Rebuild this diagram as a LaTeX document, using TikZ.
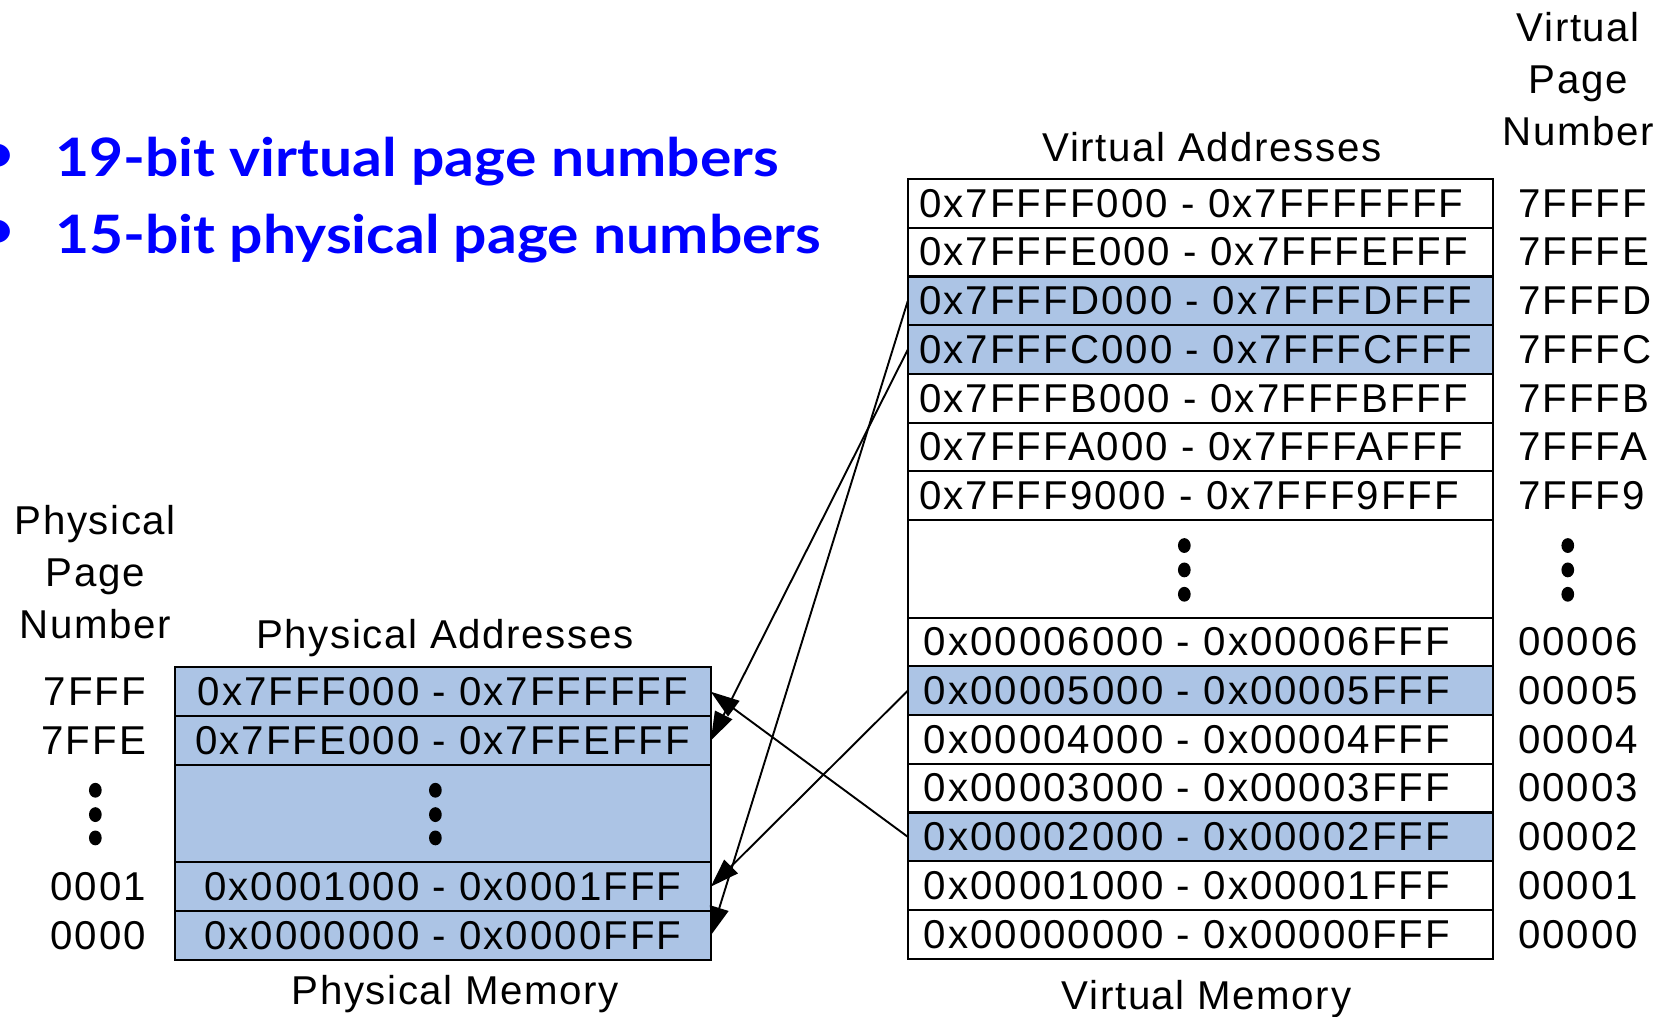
\documentclass[tikz,border=0pt]{standalone}
\usepackage{fontspec}
\setmainfont{Liberation Sans}
\newfontfamily\addrfont{Liberation Sans}[LetterSpace=5]
\newfontfamily\headfont{Liberation Sans}[LetterSpace=4]
\newfontfamily\titlefont{Lato}[FakeStretch=1.11]
\usetikzlibrary{arrows.meta}
\definecolor{pagefill}{RGB}{172,196,229}
\definecolor{titleblue}{RGB}{0,0,255}
\begin{document}
\begin{tikzpicture}[x=1pt,y=-1pt,
  vrow/.style={draw=black, line width=2pt, minimum width=552pt, minimum height=46pt,
    inner sep=0pt, outer sep=0pt, anchor=north west, text width=530pt, align=left,
    font={\addrfont\fontsize{38}{46}\selectfont}},
  prow/.style={draw=black, line width=2pt, fill=pagefill, minimum width=506pt, minimum height=46pt,
    inner sep=0pt, outer sep=0pt, anchor=north west,
    font={\addrfont\fontsize{38}{46}\selectfont}},
  hl/.style={fill=pagefill},
  num/.style={inner sep=0pt, font={\addrfont\fontsize{38}{49}\selectfont}},
  head/.style={inner sep=0pt, align=center, font={\headfont\fontsize{38}{49}\selectfont}},
  titletext/.style={inner sep=0pt, text=titleblue, font={\titlefont\bfseries\fontsize{50}{60}\selectfont}},
  conn/.style={line width=1.8pt, -{Triangle[length=27pt,width=18pt]}},
  dot/.style={fill=black}
]
\useasboundingbox (0,0) rectangle (1568,960);

% title bullets
\node[titletext, anchor=center] (b1) at (-2,149) {•};
\node[titletext, anchor=base west] (t1) at (52,167) {19-bit virtual page numbers};
\node[titletext, anchor=center] (b2) at (-2,221) {•};
\node[titletext, anchor=base west] (t2) at (52,239) {15-bit physical page numbers};

% headers
\node[head] (vpnhead) at (1490,75) {Virtual\\Page\\Number};
\node[head, anchor=base] (vahead) at (1144,152) {Virtual Addresses};
\node[head] (ppnhead) at (90,540) {Physical\\Page\\Number};
\node[head, anchor=base] (pahead) at (420,612) {Physical Addresses};
\node[head, anchor=base] (pmem) at (430,948) {Physical Memory};
\node[head, anchor=base] (vmem) at (1139,953) {Virtual Memory};

% virtual memory rows
\node[vrow] (vF) at (857,169) {0x7FFFF000 - 0x7FFFFFFF};
\node[vrow] (vE) at (857,215) {0x7FFFE000 - 0x7FFFEFFF};
\node[vrow,hl] (vD) at (857,261) {0x7FFFD000 - 0x7FFFDFFF};
\node[vrow,hl] (vC) at (857,307) {0x7FFFC000 - 0x7FFFCFFF};
\node[vrow] (vB) at (857,353) {0x7FFFB000 - 0x7FFFBFFF};
\node[vrow] (vA) at (857,399) {0x7FFFA000 - 0x7FFFAFFF};
\node[vrow] (v9) at (857,445) {0x7FFF9000 - 0x7FFF9FFF};
\node[vrow, minimum height=92pt] (vdots) at (857,491) {};
\node[vrow] (v6) at (857,583) {\hspace*{4pt}0x00006000 - 0x00006FFF};
\node[vrow,hl] (v5) at (857,629) {\hspace*{4pt}0x00005000 - 0x00005FFF};
\node[vrow] (v4) at (857,675) {\hspace*{4pt}0x00004000 - 0x00004FFF};
\node[vrow] (v3) at (857,721) {\hspace*{4pt}0x00003000 - 0x00003FFF};
\node[vrow,hl] (v2) at (857,767) {\hspace*{4pt}0x00002000 - 0x00002FFF};
\node[vrow] (v1) at (857,813) {\hspace*{4pt}0x00001000 - 0x00001FFF};
\node[vrow] (v0) at (857,859) {\hspace*{4pt}0x00000000 - 0x00000FFF};

% virtual page numbers
\foreach \n/\t in {vF/7FFFF, vE/7FFFE, vD/7FFFD, vC/7FFFC, vB/7FFFB, vA/7FFFA, v9/7FFF9,
                   v6/00006, v5/00005, v4/00004, v3/00003, v2/00002, v1/00001, v0/00000}
  \node[num, anchor=west] (n\n) at ([xshift=24pt]\n.east) {\t};

% physical memory rows
\node[prow] (pFFF) at (165,630) {0x7FFF000 - 0x7FFFFFF};
\node[prow] (pFFE) at (165,676) {0x7FFE000 - 0x7FFEFFF};
\node[prow, minimum height=92pt] (pdots) at (165,722) {};
\node[prow] (p001) at (165,814) {0x0001000 - 0x0001FFF};
\node[prow] (p000) at (165,860) {0x0000000 - 0x0000FFF};

% physical page numbers
\foreach \n/\t in {pFFF/7FFF, pFFE/7FFE, p001/0001, p000/0000}
  \node[num, anchor=east] (n\n) at ([xshift=-27pt]\n.west) {\t};

% ellipsis dots
\foreach \y in {515,538,561} {
  \fill[dot] (1118,\y) ellipse (6pt and 7pt);
  \fill[dot] (1480,\y) ellipse (6pt and 7pt);
}
\foreach \y in {746,769,791} {
  \fill[dot] (411,\y) ellipse (6pt and 7pt);
  \fill[dot] (90,\y) ellipse (6pt and 7pt);
}

% mappings
\draw[conn] (v2.west) -- (pFFF.east);
\draw[conn] (vC.west) -- (pFFE.east);
\draw[conn] (v5.west) -- (p001.east);
\draw[conn] (vD.west) -- (p000.east);
\end{tikzpicture}
\end{document}
